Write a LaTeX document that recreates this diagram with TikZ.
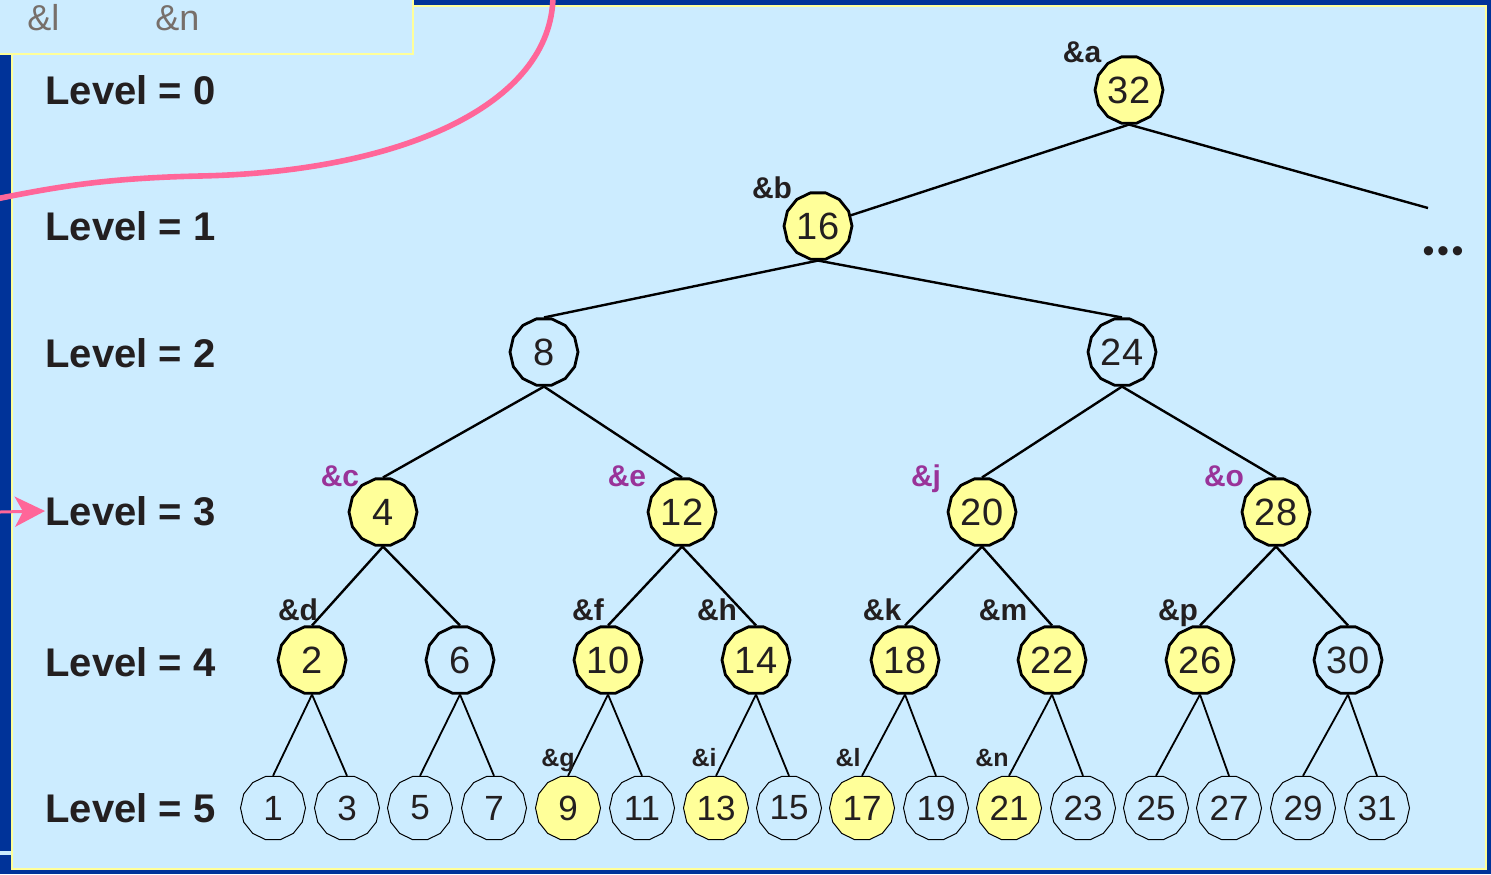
\documentclass[tikz,border=0pt]{standalone}
\usepackage{fontspec}
\setmainfont{Liberation Sans}
\usetikzlibrary{arrows.meta,shapes,positioning}
\definecolor{frameblue}{RGB}{0,51,153}
\definecolor{panelblue}{RGB}{204,236,255}
\definecolor{rimyellow}{RGB}{255,255,153}
\definecolor{nodeyellow}{RGB}{255,255,153}
\definecolor{inkgrey}{RGB}{35,31,32}
\definecolor{boxgrey}{RGB}{119,111,106}
\definecolor{refpurple}{RGB}{153,51,153}
\definecolor{curvepink}{RGB}{255,102,153}

\begin{document}
\begin{tikzpicture}[x=0.5pt,y=-0.5pt,
  tnode/.style={regular polygon,regular polygon sides=14,draw=black,line width=1.4pt,
    minimum size=34pt,inner sep=0pt,text=inkgrey,font=\fontsize{19}{19}\selectfont},
  leaf/.style={tnode,line width=0.5pt,minimum size=32.5pt,font=\fontsize{17.5}{17.5}\selectfont},
  edge/.style={line width=1.2pt},
  leafedge/.style={line width=0.9pt},
  levelname/.style={anchor=west,inner sep=0pt,text=inkgrey,font=\bfseries\fontsize{20}{20}\selectfont},
  amp/.style={anchor=base,inner sep=0pt,text=inkgrey,font=\bfseries\fontsize{15}{15}\selectfont},
  smallamp/.style={amp,font=\bfseries\fontsize{12.5}{12.5}\selectfont}]
\useasboundingbox (0,0) rectangle (1491,874);
% frame and panels
\fill[frameblue] (0,0) rectangle (1491,874);
\draw[rimyellow,line width=1pt,fill=panelblue] (12,6) rectangle (1486,869);
\fill[panelblue] (0,851) rectangle (11,855);
\draw[rimyellow,line width=1pt,fill=panelblue] (-2,-2) rectangle (413,54);
\node[anchor=base west,inner sep=0pt,text=boxgrey,font=\fontsize{18}{18}\selectfont] (boxl) at (27,30) {\&l};
\node[anchor=base west,inner sep=0pt,text=boxgrey,font=\fontsize{18}{18}\selectfont] (boxn) at (155,30) {\&n};

% level names
\foreach \l/\y in {0/90,1/226,2/353,3/511,4/662,5/808}
  \node[levelname] (lv\l) at (45,\y) {Level = \l};

% inner nodes
\foreach \n/\x/\y/\f in {32/1129/90/nodeyellow,16/818/226/nodeyellow,
    8/544/352/panelblue,24/1122/352/panelblue,
    4/383/512/nodeyellow,12/682/512/nodeyellow,20/982/512/nodeyellow,28/1276/512/nodeyellow,
    2/312/660/nodeyellow,6/460/660/panelblue,10/608/660/nodeyellow,14/756/660/nodeyellow,
    18/905/660/nodeyellow,22/1052/660/nodeyellow,26/1200/660/nodeyellow,30/1348/660/panelblue}
  \node[tnode,fill=\f] (n\n) at (\x,\y) {\n};

% leaves
\foreach \n/\x/\f in {1/273/panelblue,3/347/panelblue,5/420/panelblue,7/494/panelblue,
    9/568/nodeyellow,11/642/panelblue,13/716/nodeyellow,15/789/panelblue,
    17/862/nodeyellow,19/936/panelblue,21/1009/nodeyellow,23/1083/panelblue,
    25/1156/panelblue,27/1229/panelblue,29/1303/panelblue,31/1377/panelblue}
  \node[leaf,fill=\f] (n\n) at (\x,808) {\n};

% edges
\coordinate (more) at (1428,208);
\draw[edge] (n32.south) -- (n16);
\draw[edge] (n32.south) -- (more);
\node[anchor=base,inner sep=0pt,text=inkgrey,font=\fontsize{17}{17}\selectfont] (dots) at (1443,262)
  {\textbullet\kern1.3pt\textbullet\kern1.3pt\textbullet};
\foreach \p/\k in {16/8,16/24,8/4,8/12,24/20,24/28,4/2,4/6,12/10,12/14,20/18,20/22,28/26,28/30}
  \draw[edge] (n\p.south) -- (n\k.north);
\foreach \p/\k in {2/1,2/3,6/5,6/7,10/9,10/11,14/13,14/15,18/17,18/19,22/21,22/23,26/25,26/27,30/29,30/31}
  \draw[leafedge] (n\p.south) -- (n\k.north);

% reference names
\node[amp] (ra) at (1082,62) {\&a};
\node[amp] (rb) at (772,198) {\&b};
\foreach \r/\x in {c/340,e/627,j/926,o/1224}
  \node[amp,text=refpurple] (r\r) at (\x,486) {\&\r};
\foreach \r/\x in {d/298,f/588,h/717,k/882,m/1003,p/1178}
  \node[amp] (r\r) at (\x,620) {\&\r};
\foreach \r/\x in {g/558,i/704,l/848,n/992}
  \node[smallamp] (r\r) at (\x,766) {\&\r};

% pink curve and arrow
\coordinate (cstart) at (-4,199);
\coordinate (cend) at (553,-4);
\coordinate (astart) at (0,512);
\draw[curvepink,line width=2.8pt] (cstart) .. controls (60,186) and (110,178) .. (200,176)
  .. controls (400,172) and (552,105) .. (cend);
\draw[curvepink,line width=1.5pt,-{Stealth[length=15pt,width=15pt,inset=4pt]}] (astart) -- (lv3.west);
\end{tikzpicture}
\end{document}
